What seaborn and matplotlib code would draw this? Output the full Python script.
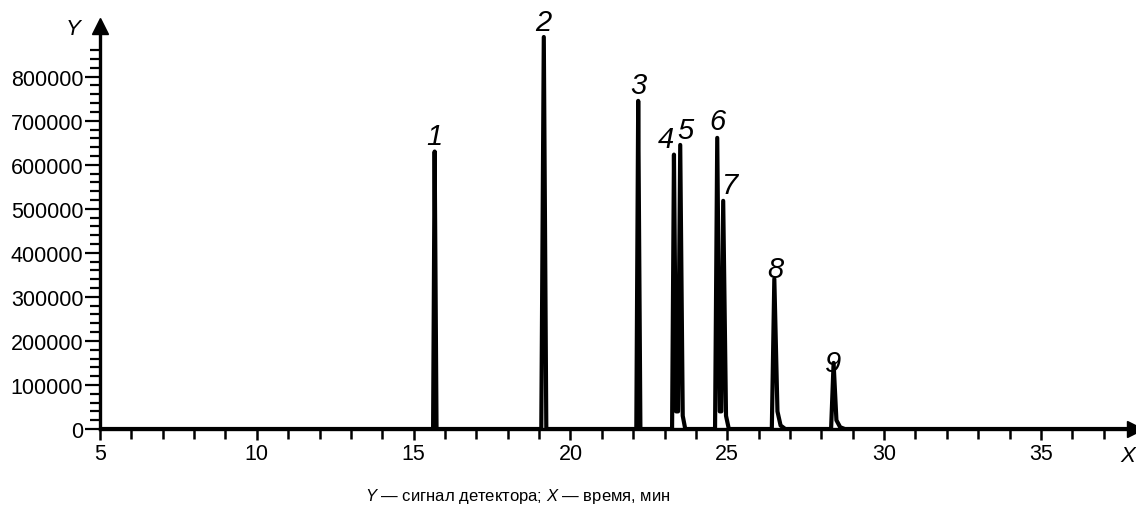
import matplotlib
matplotlib.use("Agg")
import matplotlib.pyplot as plt
import seaborn as sns
import numpy as np
from matplotlib.ticker import FixedLocator

# chromatogram trace, vertices (time in min, detector signal)
time_min = [5.0,
            15.62, 15.67, 15.73,
            19.07, 19.15, 19.23,
            22.10, 22.16, 22.23,
            23.24, 23.30, 23.37, 23.43, 23.50, 23.58, 23.66,
            24.61, 24.68, 24.76, 24.81, 24.87, 24.96, 25.05,
            26.42, 26.50, 26.60, 26.70, 26.85,
            28.31, 28.39, 28.48, 28.60, 28.75,
            37.8]
signal = [0,
          0, 630000, 0,
          0, 890000, 0,
          0, 745000, 0,
          0, 623000, 40000, 40000, 645000, 30000, 0,
          0, 661000, 40000, 40000, 518000, 30000, 0,
          0, 341000, 40000, 8000, 0,
          0, 150000, 20000, 4000, 0,
          0]

peak_labels = ["1", "2", "3", "4", "5", "6", "7", "8", "9"]
peak_times = [15.67, 19.15, 22.16, 23.30, 23.50, 24.68, 24.87, 26.50, 28.39]
peak_heights = [630000, 890000, 745000, 623000, 645000, 661000, 518000, 341000, 150000]

x_major = [5, 10, 15, 20, 25, 30, 35]
y_major = [0, 100000, 200000, 300000, 400000, 500000, 600000, 700000, 800000]

sns.set_theme(style="ticks")
plt.rcParams["font.family"] = ["Liberation Sans", "DejaVu Sans"]
plt.rcParams["mathtext.fontset"] = "custom"
plt.rcParams["mathtext.rm"] = "Liberation Sans"
plt.rcParams["mathtext.it"] = "Liberation Sans:italic"
plt.rcParams["text.color"] = "black"
plt.rcParams["xtick.color"] = "black"
plt.rcParams["ytick.color"] = "black"

fig = plt.figure(figsize=(11.36, 5.10), dpi=100)
ax = fig.add_axes([100 / 1136, 80 / 510, 1035 / 1136, 403 / 510])

sns.lineplot(x=time_min, y=signal, ax=ax, color="black", linewidth=3,
             estimator=None, sort=False)

ax.set_xlim(5, 38)
ax.set_ylim(0, 915000)
sns.despine(ax=ax)
for side in ["left", "bottom"]:
    ax.spines[side].set_linewidth(2.4)
    ax.spines[side].set_color("black")

ax.xaxis.set_major_locator(FixedLocator(x_major))
ax.xaxis.set_minor_locator(FixedLocator(np.arange(5, 38, 1)))
ax.yaxis.set_major_locator(FixedLocator(y_major))
ax.yaxis.set_minor_locator(FixedLocator(np.arange(0, 860001, 20000)))
ax.set_xticklabels([str(v) for v in x_major])
ax.set_yticklabels([str(v) for v in y_major])
ax.tick_params(axis="x", which="major", direction="out", length=8, width=1.8,
               labelsize=15.5, colors="black", pad=2)
ax.tick_params(axis="x", which="minor", direction="out", length=7, width=1.8, colors="black")
ax.tick_params(axis="y", which="major", direction="out", length=11, width=1.6,
               labelsize=15.5, colors="black", pad=1)
ax.tick_params(axis="y", which="minor", direction="out", length=7, width=1.6, colors="black")

# arrow heads on the axes
ax.plot(1, 0, ">", color="black", markersize=11, transform=ax.transAxes, clip_on=False)
ax.plot(0, 1, "^", color="black", markersize=11, transform=ax.transAxes, clip_on=False)
ax.text(-0.019, 1.02, "Y", transform=ax.transAxes, fontsize=16, style="italic",
        ha="right", va="top", color="black")
ax.text(1.0, -0.04, "X", transform=ax.transAxes, fontsize=16, style="italic",
        ha="right", va="top", color="black")

offsets = [(0, 1), (0, 1), (0, 1), (-6, 1), (4, 1), (0, 2), (5, 1), (1, -3), (0, -10)]
for lab, t, h, off in zip(peak_labels, peak_times, peak_heights, offsets):
    ax.annotate(lab, (t, h), xytext=off, textcoords="offset points", ha="center",
                va="bottom", fontsize=21, style="italic", color="black")

fig.text(0.456, 0.018, r"$\it{Y}$ — сигнал детектора; $\it{X}$ — время, мин",
         ha="center", va="baseline", fontsize=12, color="black")

fig.savefig("out.png", dpi=100)
